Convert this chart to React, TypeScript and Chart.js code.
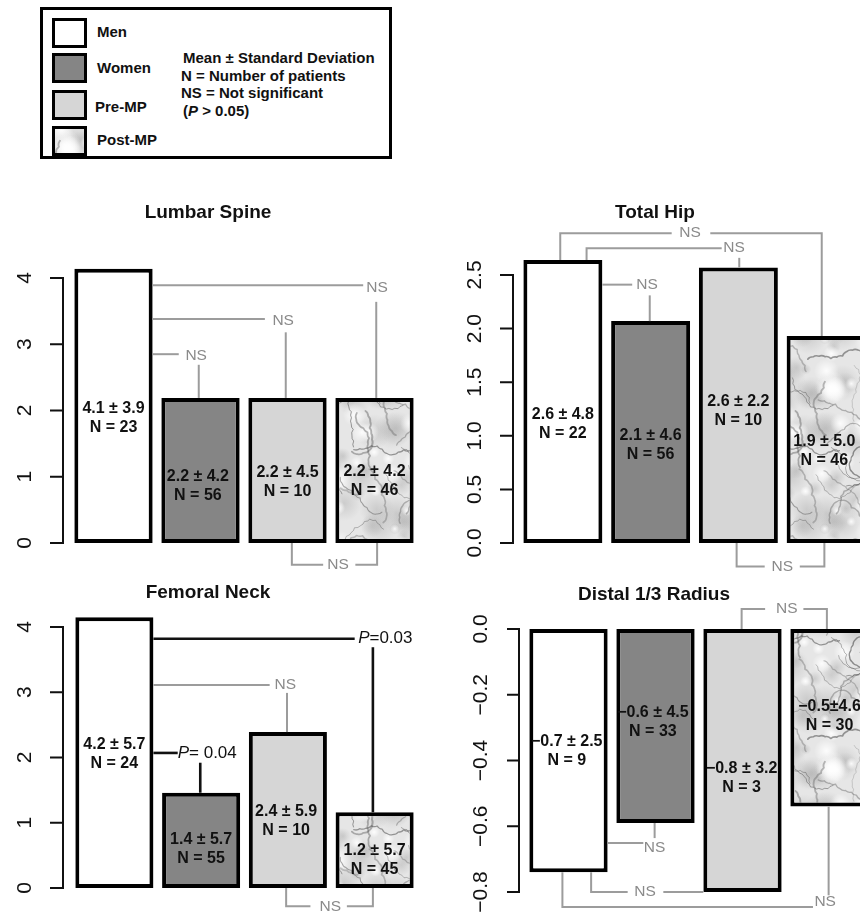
import React, { useEffect, useRef } from "react";
import { Chart, registerables } from "chart.js";

Chart.register(...registerables);

const groups = ["Men", "Women", "Pre-MP", "Post-MP"];

// Lumbar Spine
const lumbarValues = [4.14, 2.19, 2.19, 2.19];
const lumbarLabels = ["4.1 ± 3.9", "2.2 ± 4.2", "2.2 ± 4.5", "2.2 ± 4.2"];
const lumbarN = ["N = 23", "N = 56", "N = 10", "N = 46"];
const lumbarTicks = [0, 1, 2, 3, 4];
const lumbarTickLabels = ["0", "1", "2", "3", "4"];

// Total Hip
const hipValues = [2.64, 2.07, 2.57, 1.93];
const hipLabels = ["2.6 ± 4.8", "2.1 ± 4.6", "2.6 ± 2.2", "1.9 ± 5.0"];
const hipN = ["N = 22", "N = 56", "N = 10", "N = 46"];
const hipTicks = [0, 0.5, 1, 1.5, 2, 2.5];
const hipTickLabels = ["0.0", "0.5", "1.0", "1.5", "2.0", "2.5"];

// Femoral Neck
const neckValues = [4.15, 1.46, 2.39, 1.16];
const neckLabels = ["4.2 ± 5.7", "1.4 ± 5.7", "2.4 ± 5.9", "1.2 ± 5.7"];
const neckN = ["N = 24", "N = 55", "N = 10", "N = 45"];
const neckTicks = [0, 1, 2, 3, 4];
const neckTickLabels = ["0", "1", "2", "3", "4"];

// Distal 1/3 Radius
const radiusValues = [-0.74, -0.59, -0.8, -0.54];
const radiusLabels = ["\u22120.7 ± 2.5", "\u22120.6 ± 4.5", "\u22120.8 ± 3.2", "\u22120.5±4.6"];
const radiusN = ["N = 9", "N = 33", "N = 3", "N = 30"];
const radiusTicks = [0, -0.2, -0.4, -0.6, -0.8];
const radiusTickLabels = ["0.0", "\u22120.2", "\u22120.4", "\u22120.6", "\u22120.8"];

const FONT = '"Liberation Sans", Arial, Helvetica, sans-serif';
const GRAY = "#9c9c9c";
const GRAY_TXT = "#8a8a8a";

type Seg = { c: "g" | "k"; p: [number, number][] };
type Txt = { t: string; x: number; y: number; c: "g" | "k"; italicP?: boolean; align?: "left" | "center" };
type PanelCfg = {
  title: string;
  titleX: number;
  titleY: number;
  left: number;
  top: number;
  width: number;
  height: number;
  padding: { left: number; right: number; top: number; bottom: number };
  min: number;
  max: number;
  values: number[];
  labels: string[];
  ns: string[];
  labelY: number[];
  labelDX: number[];
  ticks: number[];
  tickLabels: string[];
  axisOffset: number;
  tickLen: number;
  segs: Seg[];
  texts: Txt[];
};

// deterministic hash used only for the decorative marble texture
function hash(n: number) {
  const s = Math.sin(n * 127.1 + 311.7) * 43758.5453;
  return s - Math.floor(s);
}

function drawMarble(g: CanvasRenderingContext2D, w: number, h: number) {
  g.fillStyle = "#e6e6e6";
  g.fillRect(0, 0, w, h);
  const offs: [number, number][] = [];
  for (const dx of [-w, 0, w]) for (const dy of [-h, 0, h]) offs.push([dx, dy]);
  const blob = (x: number, y: number, r: number, col: string) => {
    offs.forEach(([dx, dy]) => {
      const cx = x + dx;
      const cy = y + dy;
      const grd = g.createRadialGradient(cx, cy, 0, cx, cy, r);
      grd.addColorStop(0, col);
      grd.addColorStop(1, col.replace(/[\d.]+\)$/, "0)"));
      g.fillStyle = grd;
      g.beginPath();
      g.arc(cx, cy, r, 0, Math.PI * 2);
      g.fill();
    });
  };
  for (let k = 0; k < 45; k++) {
    blob(hash(k * 3 + 1) * w, hash(k * 3 + 2) * h, 5 + hash(k * 3 + 3) * 14, "rgba(150,150,150,0.32)");
  }
  for (let k = 0; k < 40; k++) {
    blob(hash(k * 5 + 101) * w, hash(k * 5 + 102) * h, 4 + hash(k * 5 + 103) * 12, "rgba(255,255,255,0.9)");
  }
  g.lineCap = "round";
  g.lineJoin = "round";
  for (let k = 0; k < 26; k++) {
    const x0 = hash(k * 7 + 201) * w;
    const y0 = hash(k * 7 + 202) * h;
    const a0 = hash(k * 7 + 203) * Math.PI * 2;
    const v = 70 + Math.floor(hash(k + 300) * 50);
    g.strokeStyle = `rgba(${v},${v},${v},${0.35 + hash(k + 400) * 0.3})`;
    g.lineWidth = 0.6 + hash(k + 500) * 1.3;
    offs.forEach(([dx, dy]) => {
      let x = x0 + dx;
      let y = y0 + dy;
      let a = a0;
      g.beginPath();
      g.moveTo(x, y);
      for (let s = 0; s < 10; s++) {
        a += (hash(k * 31 + s) - 0.5) * 1.4;
        const nx = x + Math.cos(a) * 6;
        const ny = y + Math.sin(a) * 6;
        g.quadraticCurveTo(x + Math.cos(a + 0.4) * 4, y + Math.sin(a + 0.4) * 4, nx, ny);
        x = nx;
        y = ny;
      }
      g.stroke();
    });
  }
}

function makeMarble(): CanvasPattern | string {
  const c = document.createElement("canvas");
  c.width = 130;
  c.height = 190;
  const g = c.getContext("2d");
  if (!g) return "#e3e3e3";
  drawMarble(g, 130, 190);
  return g.createPattern(c, "repeat") || "#e3e3e3";
}

const lumbarCfg: PanelCfg = {
  title: "Lumbar Spine",
  titleX: 208,
  titleY: 33,
  left: 0,
  top: 180,
  width: 430,
  height: 400,
  padding: { left: 70, right: 12, top: 98, bottom: 37 },
  min: 0,
  max: 4,
  values: lumbarValues,
  labels: lumbarLabels,
  ns: lumbarN,
  labelY: [1.89, 0.86, 0.92, 0.94],
  labelDX: [0, -0.03, 0, 0],
  ticks: lumbarTicks,
  tickLabels: lumbarTickLabels,
  axisOffset: -7,
  tickLen: 13,
  segs: [
    { c: "g", p: [[0.45, 3.89], [2.87, 3.89]] },
    { c: "g", p: [[3.02, 3.64], [3.02, 2.19]] },
    { c: "g", p: [[0.45, 3.38], [1.74, 3.38]] },
    { c: "g", p: [[1.98, 3.18], [1.98, 2.19]] },
    { c: "g", p: [[0.45, 2.85], [0.75, 2.85]] },
    { c: "g", p: [[0.98, 2.69], [0.98, 2.19]] },
    { c: "g", p: [[2.05, 0], [2.05, -0.33], [2.41, -0.33]] },
    { c: "g", p: [[2.78, -0.33], [3.03, -0.33], [3.03, 0]] },
  ],
  texts: [
    { t: "NS", x: 3.03, y: 3.86, c: "g" },
    { t: "NS", x: 1.95, y: 3.35, c: "g" },
    { t: "NS", x: 0.95, y: 2.82, c: "g" },
    { t: "NS", x: 2.58, y: -0.33, c: "g" },
  ],
};

const hipCfg: PanelCfg = {
  title: "Total Hip",
  titleX: 225,
  titleY: 33,
  left: 430,
  top: 180,
  width: 450,
  height: 400,
  padding: { left: 89, right: 10, top: 95, bottom: 37 },
  min: 0,
  max: 2.5,
  values: hipValues,
  labels: hipLabels,
  ns: hipN,
  labelY: [1.11, 0.91, 1.23, 0.86],
  labelDX: [0, 0, 0, -0.02],
  ticks: hipTicks,
  tickLabels: hipTickLabels,
  axisOffset: -6,
  tickLen: 13,
  segs: [
    { c: "g", p: [[-0.03, 2.64], [-0.03, 2.89], [1.24, 2.89]] },
    { c: "g", p: [[1.68, 2.89], [2.95, 2.89], [2.95, 1.93]] },
    { c: "g", p: [[0.27, 2.64], [0.27, 2.75], [1.81, 2.75]] },
    { c: "g", p: [[2.01, 2.66], [2.01, 2.57]] },
    { c: "g", p: [[0.45, 2.41], [0.79, 2.41]] },
    { c: "g", p: [[0.99, 2.31], [0.99, 2.07]] },
    { c: "g", p: [[1.98, 0], [1.98, -0.22], [2.3, -0.22]] },
    { c: "g", p: [[2.7, -0.22], [2.98, -0.22], [2.98, 0]] },
  ],
  texts: [
    { t: "NS", x: 1.45, y: 2.89, c: "g" },
    { t: "NS", x: 1.95, y: 2.75, c: "g" },
    { t: "NS", x: 0.96, y: 2.41, c: "g" },
    { t: "NS", x: 2.5, y: -0.22, c: "g" },
  ],
};

const neckCfg: PanelCfg = {
  title: "Femoral Neck",
  titleX: 208,
  titleY: 33,
  left: 0,
  top: 560,
  width: 430,
  height: 352,
  padding: { left: 71, right: 12, top: 67, bottom: 24 },
  min: 0,
  max: 4,
  values: neckValues,
  labels: neckLabels,
  ns: neckN,
  labelY: [2.05, 0.6, 1.03, 0.43],
  labelDX: [0, 0, -0.02, 0],
  ticks: neckTicks,
  tickLabels: neckTickLabels,
  axisOffset: -8,
  tickLen: 13,
  segs: [
    { c: "k", p: [[0.45, 3.82], [2.77, 3.82]] },
    { c: "k", p: [[2.98, 3.69], [2.98, 1.16]] },
    { c: "g", p: [[0.45, 3.11], [1.79, 3.11]] },
    { c: "g", p: [[1.99, 2.99], [1.99, 2.39]] },
    { c: "k", p: [[0.45, 2.07], [0.73, 2.07]] },
    { c: "k", p: [[0.99, 1.92], [0.99, 1.46]] },
    { c: "g", p: [[1.98, 0], [1.98, -0.28], [2.26, -0.28]] },
    { c: "g", p: [[2.68, -0.28], [2.98, -0.28], [2.98, 0]] },
  ],
  texts: [
    { t: "=0.03", x: 2.81, y: 3.82, c: "k", italicP: true, align: "left" },
    { t: "NS", x: 1.97, y: 3.11, c: "g" },
    { t: "= 0.04", x: 0.73, y: 2.07, c: "k", italicP: true, align: "left" },
    { t: "NS", x: 2.49, y: -0.28, c: "g" },
  ],
};

const radiusCfg: PanelCfg = {
  title: "Distal 1/3 Radius",
  titleX: 224,
  titleY: 35,
  left: 430,
  top: 560,
  width: 450,
  height: 352,
  padding: { left: 95, right: 7, top: 69, bottom: 20 },
  min: -0.8,
  max: 0,
  values: radiusValues,
  labels: radiusLabels,
  ns: radiusN,
  labelY: [-0.37, -0.284, -0.452, -0.265],
  labelDX: [-0.02, -0.03, -0.01, 0],
  ticks: radiusTicks,
  tickLabels: radiusTickLabels,
  axisOffset: -6,
  tickLen: 12,
  segs: [
    { c: "g", p: [[0.45, -0.651], [0.86, -0.651]] },
    { c: "g", p: [[0.99, -0.59], [0.99, -0.636]] },
    { c: "g", p: [[0.26, -0.74], [0.26, -0.8], [0.68, -0.8]] },
    { c: "g", p: [[1.09, -0.8], [1.55, -0.8]] },
    { c: "g", p: [[-0.07, -0.74], [-0.07, -0.846], [2.81, -0.846]] },
    { c: "g", p: [[2.99, -0.54], [2.99, -0.81]] },
    { c: "g", p: [[1.99, 0], [1.99, 0.061], [2.26, 0.061]] },
    { c: "g", p: [[2.7, 0.061], [2.97, 0.061], [2.97, 0]] },
  ],
  texts: [
    { t: "NS", x: 0.99, y: -0.666, c: "g" },
    { t: "NS", x: 0.88, y: -0.8, c: "g" },
    { t: "NS", x: 2.95, y: -0.83, c: "g" },
    { t: "NS", x: 2.51, y: 0.061, c: "g" },
  ],
};

function annotPlugin(cfg: PanelCfg) {
  return {
    id: "annot",
    afterDatasetsDraw(chart: any) {
      const ctx: CanvasRenderingContext2D = chart.ctx;
      const xs = chart.scales.x;
      const ys = chart.scales.y;
      const ca = chart.chartArea;
      const X = (v: number) => xs.getPixelForValue(v);
      const Y = (v: number) => ys.getPixelForValue(v);
      ctx.save();

      // title
      ctx.fillStyle = "#111";
      ctx.font = `bold 19px ${FONT}`;
      ctx.textAlign = "center";
      ctx.textBaseline = "middle";
      ctx.fillText(cfg.title, cfg.titleX, cfg.titleY);

      // y axis
      const ax = ca.left + cfg.axisOffset;
      const tv = cfg.ticks;
      const yA = Y(Math.max(...tv));
      const yB = Y(Math.min(...tv));
      ctx.strokeStyle = "#111";
      ctx.lineWidth = 2;
      ctx.lineCap = "butt";
      ctx.beginPath();
      ctx.moveTo(ax, yA - 1);
      ctx.lineTo(ax, yB + 1);
      tv.forEach((t) => {
        const y = Y(t);
        ctx.moveTo(ax - cfg.tickLen, y);
        ctx.lineTo(ax + 1, y);
      });
      ctx.stroke();
      ctx.font = `21px ${FONT}`;
      ctx.fillStyle = "#111";
      tv.forEach((t, i) => {
        const y = Y(t);
        ctx.save();
        ctx.translate(ax - 38, y);
        ctx.rotate(-Math.PI / 2);
        ctx.textAlign = "center";
        ctx.textBaseline = "middle";
        ctx.fillText(cfg.tickLabels[i], 0, 0);
        ctx.restore();
      });

      // significance lines
      cfg.segs.forEach((s) => {
        ctx.beginPath();
        ctx.strokeStyle = s.c === "k" ? "#111" : GRAY;
        ctx.lineWidth = s.c === "k" ? 2.6 : 2;
        s.p.forEach(([x, y], i) => {
          if (i === 0) ctx.moveTo(X(x), Y(y));
          else ctx.lineTo(X(x), Y(y));
        });
        ctx.stroke();
      });

      // significance texts
      cfg.texts.forEach((t) => {
        const px = X(t.x);
        const py = Y(t.y);
        ctx.textBaseline = "middle";
        if (t.italicP) {
          ctx.fillStyle = "#111";
          ctx.textAlign = "left";
          ctx.font = `italic 17px ${FONT}`;
          ctx.fillText("P", px, py);
          const w = ctx.measureText("P").width;
          ctx.font = `17px ${FONT}`;
          ctx.fillText(t.t, px + w, py);
        } else {
          ctx.fillStyle = t.c === "k" ? "#111" : GRAY_TXT;
          ctx.font = `15.5px ${FONT}`;
          ctx.textAlign = t.align || "center";
          ctx.fillText(t.t, px, py);
        }
      });

      // bar labels
      ctx.fillStyle = "#111";
      ctx.font = `bold 16px ${FONT}`;
      ctx.textAlign = "center";
      ctx.textBaseline = "middle";
      cfg.labels.forEach((lab, i) => {
        const px = X(i + cfg.labelDX[i]);
        const py = Y(cfg.labelY[i]);
        ctx.fillText(lab, px, py - 9.5);
        ctx.fillText(cfg.ns[i], px, py + 9.5);
      });

      ctx.restore();
    },
  };
}

function Panel({ cfg }: { cfg: PanelCfg }) {
  const ref = useRef<HTMLCanvasElement>(null);
  useEffect(() => {
    const canvas = ref.current;
    if (!canvas) return;
    const marble = makeMarble();
    const chart = new Chart(canvas, {
      type: "bar",
      data: {
        labels: groups,
        datasets: [
          {
            data: cfg.values,
            backgroundColor: ["#ffffff", "#858585", "#d6d6d6", marble as any],
            borderColor: "#000000",
            borderWidth: 4,
            borderSkipped: false,
            barPercentage: 0.9,
            categoryPercentage: 1,
            clip: false as any,
          },
        ],
      },
      options: {
        responsive: false,
        devicePixelRatio: 1,
        animation: false,
        layout: { padding: cfg.padding },
        plugins: {
          legend: { display: false },
          tooltip: { enabled: false },
          title: { display: false },
        },
        scales: {
          x: { display: false },
          y: { display: false, min: cfg.min, max: cfg.max },
        },
      },
      plugins: [annotPlugin(cfg) as any],
    });
    return () => chart.destroy();
  }, []);
  return (
    <canvas
      ref={ref}
      width={cfg.width}
      height={cfg.height}
      style={{ position: "absolute", left: cfg.left, top: cfg.top, width: cfg.width, height: cfg.height }}
    />
  );
}

function MarbleSwatch() {
  const ref = useRef<HTMLCanvasElement>(null);
  useEffect(() => {
    const c = ref.current;
    if (!c) return;
    const g = c.getContext("2d");
    if (!g) return;
    g.fillStyle = makeMarble() as any;
    g.fillRect(0, 0, c.width, c.height);
  }, []);
  return <canvas ref={ref} width={29} height={24} style={{ display: "block" }} />;
}

const swatchBase: React.CSSProperties = {
  position: "absolute",
  left: 52,
  width: 35,
  height: 30,
  border: "3px solid #000",
  boxSizing: "border-box",
  overflow: "hidden",
};

const legText: React.CSSProperties = {
  position: "absolute",
  fontFamily: FONT,
  fontWeight: "bold",
  fontSize: 15,
  lineHeight: "18px",
  color: "#111",
  whiteSpace: "nowrap",
};

export default function App() {
  return (
    <div
      style={{
        position: "absolute",
        left: 0,
        top: 0,
        width: 860,
        height: 912,
        overflow: "hidden",
        background: "#ffffff",
      }}
    >
      <div
        style={{
          position: "absolute",
          left: 40,
          top: 7,
          width: 352,
          height: 152,
          border: "3px solid #000",
          boxSizing: "border-box",
        }}
      />
      <div style={{ ...swatchBase, top: 18, background: "#ffffff" }} />
      <div style={{ ...swatchBase, top: 53, background: "#858585" }} />
      <div style={{ ...swatchBase, top: 90, background: "#d6d6d6" }} />
      <div style={{ ...swatchBase, top: 126 }}>
        <MarbleSwatch />
      </div>
      <div style={{ ...legText, left: 97, top: 23 }}>Men</div>
      <div style={{ ...legText, left: 97, top: 59 }}>Women</div>
      <div style={{ ...legText, left: 95, top: 98 }}>Pre-MP</div>
      <div style={{ ...legText, left: 97, top: 131 }}>Post-MP</div>
      <div style={{ ...legText, left: 183, top: 49 }}>Mean ± Standard Deviation</div>
      <div style={{ ...legText, left: 181, top: 67 }}>N = Number of patients</div>
      <div style={{ ...legText, left: 181, top: 84 }}>NS = Not significant</div>
      <div style={{ ...legText, left: 183, top: 102 }}>
        (<i>P</i> &gt; 0.05)
      </div>

      <Panel cfg={lumbarCfg} />
      <Panel cfg={hipCfg} />
      <Panel cfg={neckCfg} />
      <Panel cfg={radiusCfg} />
    </div>
  );
}
